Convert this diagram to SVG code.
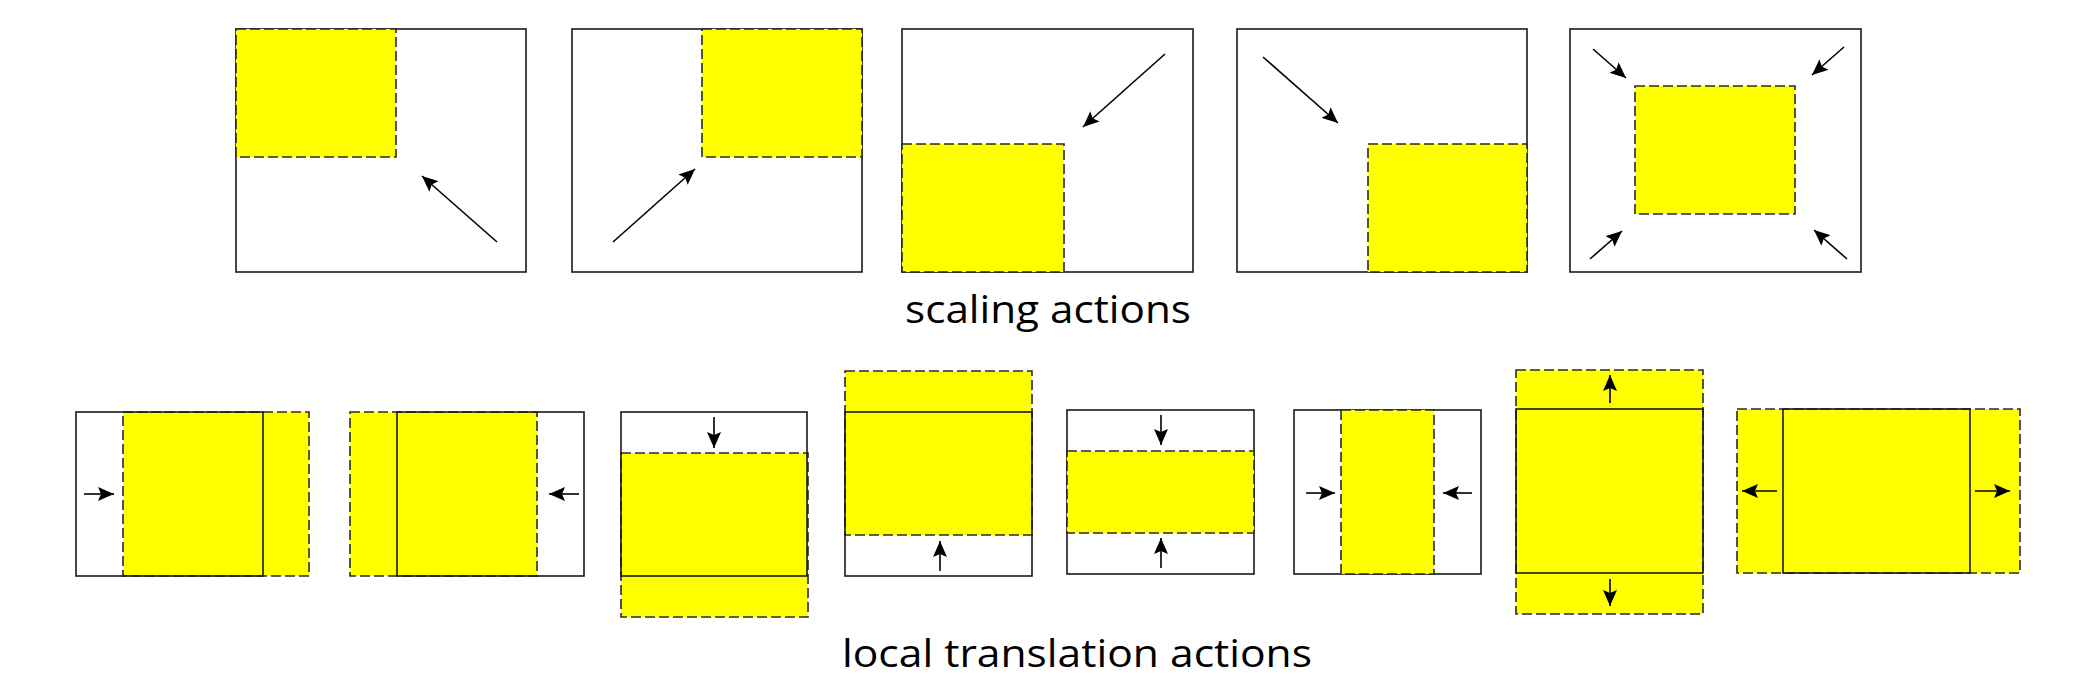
<svg xmlns="http://www.w3.org/2000/svg" width="2080" height="682" viewBox="0 0 2080 682">
<style>
.frame{fill:none;stroke:#1a1a1a;stroke-width:1.6}
.ylw{fill:#ffff00;stroke:#2a2a2a;stroke-width:1.6;stroke-dasharray:10 4}
.arr{fill:none;stroke:#000;stroke-width:1.6;marker-end:url(#ah)}
.lbl{font-family:"Open Sans","Liberation Sans",sans-serif;font-size:39px;fill:#000;text-anchor:middle}
</style>
<defs>
<marker id="ah" markerUnits="userSpaceOnUse" markerWidth="16" markerHeight="14" refX="16" refY="7" orient="auto">
<path d="M0,0 L16,7 L0,14 L3,7 z" fill="#000"/>
</marker>
</defs>
<rect width="2080" height="682" fill="#fff"/>
<g id="s1"><rect class="frame" x="236" y="29" width="290" height="243"/><rect class="ylw" x="236" y="29" width="160" height="128"/></g>
<g id="s2"><rect class="frame" x="572" y="29" width="290" height="243"/><rect class="ylw" x="702" y="29" width="160" height="128"/></g>
<g id="s3"><rect class="frame" x="902" y="29" width="291" height="243"/><rect class="ylw" x="902" y="144" width="162" height="128"/></g>
<g id="s4"><rect class="frame" x="1237" y="29" width="290" height="243"/><rect class="ylw" x="1368" y="144" width="159" height="128"/></g>
<g id="s5"><rect class="frame" x="1570" y="29" width="291" height="243"/><rect class="ylw" x="1635" y="86" width="160" height="128"/></g>
<text id="t1" class="lbl" x="1048" y="323" textLength="286" lengthAdjust="spacingAndGlyphs">scaling actions</text>
<g id="b1"><rect class="ylw" x="123" y="412" width="186" height="164"/><rect class="frame" x="76" y="412" width="187" height="164"/></g>
<g id="b2"><rect class="ylw" x="350" y="412" width="187" height="164"/><rect class="frame" x="397" y="412" width="187" height="164"/></g>
<g id="b3"><rect class="ylw" x="621" y="453" width="187" height="164"/><rect class="frame" x="621" y="412" width="186" height="164"/></g>
<g id="b4"><rect class="ylw" x="845" y="371" width="187" height="164"/><rect class="frame" x="845" y="412" width="187" height="164"/></g>
<g id="b5"><rect class="frame" x="1067" y="410" width="187" height="164"/><rect class="ylw" x="1067" y="451" width="187" height="82"/></g>
<g id="b6"><rect class="frame" x="1294" y="410" width="187" height="164"/><rect class="ylw" x="1341" y="410" width="93" height="164"/></g>
<g id="b7"><rect class="ylw" x="1516" y="370" width="187" height="244"/><rect class="frame" x="1516" y="409" width="187" height="164"/></g>
<g id="b8"><rect class="ylw" x="1737" y="409" width="283" height="164"/><rect class="frame" x="1783" y="409" width="187" height="164"/></g>
<text id="t2" class="lbl" x="1077" y="667" textLength="470" lengthAdjust="spacingAndGlyphs">local translation actions</text>
<g id="connectors">
<line class="arr" x1="497" y1="242" x2="422" y2="176"/>
<line class="arr" x1="613" y1="242" x2="695" y2="169"/>
<line class="arr" x1="1165" y1="54" x2="1083" y2="127"/>
<line class="arr" x1="1263" y1="57" x2="1338" y2="123"/>
<line class="arr" x1="1593" y1="49" x2="1626" y2="78"/>
<line class="arr" x1="1844" y1="47" x2="1812" y2="75"/>
<line class="arr" x1="1590" y1="259" x2="1622" y2="231"/>
<line class="arr" x1="1847" y1="259" x2="1814" y2="230"/>
<line class="arr" x1="84" y1="494" x2="114" y2="494"/>
<line class="arr" x1="579" y1="494" x2="549" y2="494"/>
<line class="arr" x1="714" y1="417" x2="714" y2="448"/>
<line class="arr" x1="940" y1="571" x2="940" y2="541"/>
<line class="arr" x1="1161" y1="415" x2="1161" y2="445"/>
<line class="arr" x1="1161" y1="568" x2="1161" y2="538"/>
<line class="arr" x1="1306" y1="493" x2="1335" y2="493"/>
<line class="arr" x1="1472" y1="493" x2="1443" y2="493"/>
<line class="arr" x1="1610" y1="403" x2="1610" y2="375"/>
<line class="arr" x1="1610" y1="579" x2="1610" y2="606"/>
<line class="arr" x1="1777" y1="491" x2="1742" y2="491"/>
<line class="arr" x1="1975" y1="491" x2="2010" y2="491"/>
</g>
</svg>
